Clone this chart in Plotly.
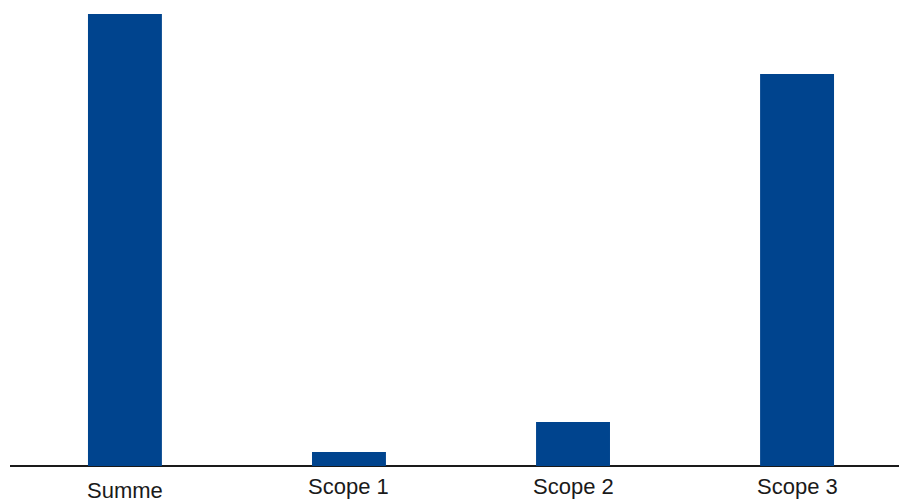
import plotly.graph_objects as go

categories = ["Summe", "Scope 1", "Scope 2", "Scope 3"]
values = [452, 14, 44, 392]
label_offsets = [-24, -20, -20, -20]

bar_color = "#00448E"

x_pos = list(range(len(categories)))

fig = go.Figure()
fig.add_trace(go.Bar(
    x=x_pos, y=values, width=0.33,
    marker=dict(color=bar_color, line=dict(width=0)),
    hoverinfo="skip",
))

for xi, name, off in zip(x_pos, categories, label_offsets):
    fig.add_annotation(
        x=xi, y=0, xref="x", yref="y", text=name, showarrow=False,
        yshift=off, font=dict(family="Liberation Sans, Arial, sans-serif", size=22, color="#1a1a1a"),
        yanchor="middle",
    )

fig.update_layout(
    width=899, height=499,
    margin=dict(l=10, r=0, t=0, b=33),
    plot_bgcolor="white", paper_bgcolor="white",
    showlegend=False,
    xaxis=dict(range=[-0.513, 3.455], showticklabels=False, showgrid=False, zeroline=False,
               showline=False, fixedrange=True),
    yaxis=dict(range=[0, 466], showticklabels=False, showgrid=False, zeroline=True,
               zerolinecolor="#1a1a1a", zerolinewidth=2, showline=False, fixedrange=True),
)

fig.write_html("out.html")
